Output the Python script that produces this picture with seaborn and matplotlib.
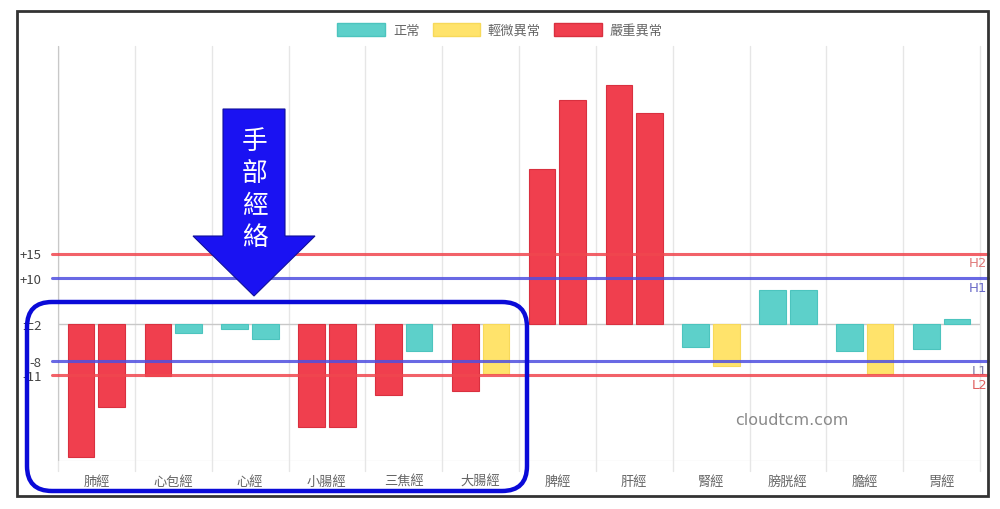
import pandas as pd
import seaborn as sns
import matplotlib.pyplot as plt
import matplotlib.patches as mpatches

meridians = ['肺經', '心包經', '心經', '小腸經', '三焦經', '大腸經',
             '脾經', '肝經', '腎經', '膀胱經', '膽經', '胃經']
left_vals = [-28.65, -11.2, -1.1, -22.2, -15.3, -14.5, 33.1, 51.1, -5.0, 7.2, -5.9, -5.5]
right_vals = [-17.8, -2.0, -3.25, -22.2, -5.8, -10.8, 47.9, 45.0, -9.1, 7.2, -10.8, 1.0]
left_status = ['嚴重異常', '嚴重異常', '正常', '嚴重異常', '嚴重異常', '嚴重異常',
               '嚴重異常', '嚴重異常', '正常', '正常', '正常', '正常']
right_status = ['嚴重異常', '正常', '正常', '嚴重異常', '正常', '輕微異常',
                '嚴重異常', '嚴重異常', '輕微異常', '正常', '輕微異常', '正常']
status_colors = {'正常': '#5dd0ca', '輕微異常': '#ffe36b', '嚴重異常': '#f03f4e'}
status_edges = {'正常': '#4cc4be', '輕微異常': '#f7d95a', '嚴重異常': '#d9303f'}

# threshold lines: position, tick label, side label, colour
limit_pos = [15, 9.75, -8, -11]
limit_ticks = ['+15', '+10', '-8', '-11']
limit_names = ['H2', 'H1', 'L1', 'L2']
limit_colors = ['#f0474f', '#4f4fe0', '#4f4fe0', '#f0474f']
name_colors = ['#e07a7a', '#6a6ac8', '#7a7aa8', '#e06060']

df = pd.DataFrame({
    'meridian': meridians * 2,
    'slot': ['a'] * 12 + ['b'] * 12,
    'value': left_vals + right_vals,
    'status': left_status + right_status,
})

sns.set_theme(style='white')
plt.rcParams['font.family'] = ['Noto Sans CJK TC', 'DejaVu Sans']

fig = plt.figure(figsize=(10, 5.1), dpi=100)
ax = fig.add_axes([0.058, 1 - 462 / 510, 0.922, (462 - 47) / 510])

sns.barplot(data=df, x='meridian', y='value', hue='slot', order=meridians,
            dodge=True, width=0.80, gap=0.13, legend=False, ax=ax)

for cont, slot in zip(ax.containers, ['a', 'b']):
    sub = df[df['slot'] == slot].reset_index(drop=True)
    for bar, st in zip(cont, sub['status']):
        bar.set_facecolor(status_colors[st])
        bar.set_edgecolor(status_edges[st])
        bar.set_linewidth(0.8)

ax.set_ylim(-29.4, 59.4)
ax.set_xlim(-0.5, 11.5)
ax.set_xlabel('')
ax.set_ylabel('')
for s in ax.spines.values():
    s.set_visible(False)

# vertical grid at category boundaries
for i in range(13):
    ax.axvline(i - 0.5, color='#e6e6e6', lw=1, zorder=0, ymin=-0.025, clip_on=False)
ax.axvline(-0.5, color='#c8c8c8', lw=1, zorder=0)
ax.axhline(0, color='#c8c8c8', lw=1, zorder=0.5)
ax.axhline(-29.4, color='#ebebeb', lw=1, zorder=0)

ax.tick_params(axis='x', length=0, pad=10, labelsize=9.5, labelcolor='#666666')
ax.set_yticks(limit_pos + [0])
ax.set_yticklabels(limit_ticks + ['±2'])
ax.tick_params(axis='y', length=0, pad=12, labelsize=9.5, labelcolor='#444444')

for pos, name, c, nc in zip(limit_pos, limit_names, limit_colors, name_colors):
    ax.axhline(pos, xmin=-0.007, xmax=1.009, color=c, lw=2.2, alpha=0.85,
               clip_on=False, zorder=3)
    ax.text(1.008, pos - 0.6, name, transform=ax.get_yaxis_transform(),
            ha='right', va='top', fontsize=9.5, color=nc, family=['DejaVu Sans'])

ax.text(9.05, -20.5, 'cloudtcm.com', ha='center', va='center', fontsize=11.5,
        color='#8a8a8a', family=['DejaVu Sans'])

# legend
handles = [mpatches.Patch(facecolor=status_colors[k], edgecolor=status_edges[k], label=k)
           for k in ['正常', '輕微異常', '嚴重異常']]
fig.legend(handles=handles, loc='center', bbox_to_anchor=(0.5, 1 - 31 / 510), ncol=3,
           frameon=False, fontsize=9.5, handlelength=3.6, handleheight=1.15,
           handletextpad=0.6, columnspacing=1.0, labelcolor='#666666')

# outer frame
fig.patches.append(mpatches.Rectangle((0.17, 0.13), 9.71, 4.85, transform=fig.dpi_scale_trans,
                                      fill=False, edgecolor='#333333', lw=2))

# highlight box around hand meridians
fig.patches.append(mpatches.FancyBboxPatch((0.27 + 0.25, 0.18 + 0.25), 5.0 - 0.5, 1.89 - 0.5,
                                           boxstyle='round,pad=0.25',
                                           transform=fig.dpi_scale_trans, fill=False,
                                           edgecolor='#0a0ad8', lw=3.2, zorder=10))

# arrow with label
fig.patches.append(mpatches.FancyArrow(2.54, 4.0, 0, -1.87, width=0.62, head_width=1.22,
                                       head_length=0.60, length_includes_head=True,
                                       transform=fig.dpi_scale_trans, facecolor='#1a12f2',
                                       edgecolor='#10109a', lw=0.8, zorder=10))
fig.text(2.545 / 10, 1 - 190 / 510, '\n'.join('手部經絡'), ha='center', va='center',
         color='white', fontsize=18.5, linespacing=1.3, zorder=11,
         family=['Noto Sans CJK TC'])

plt.savefig('out.png', dpi=100, facecolor='white')
